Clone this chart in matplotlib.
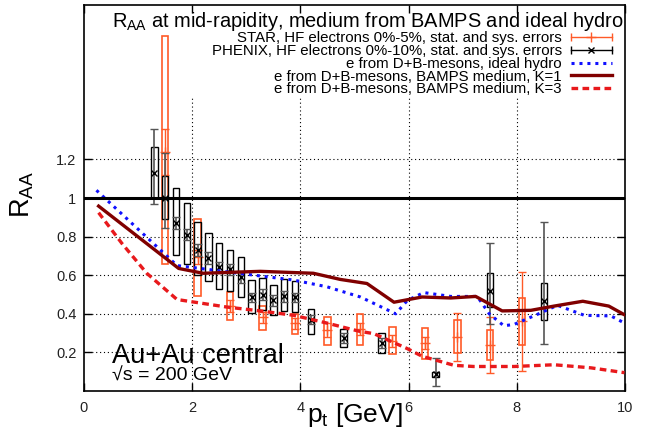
import matplotlib
matplotlib.use('Agg')
import matplotlib.pyplot as plt
from matplotlib.lines import Line2D
from matplotlib.legend_handler import HandlerLine2D

plt.rcParams['font.family'] = ['Liberation Sans', 'DejaVu Sans']
plt.rcParams['mathtext.fontset'] = 'custom'
plt.rcParams['mathtext.rm'] = 'Liberation Sans'
plt.rcParams['mathtext.it'] = 'Liberation Sans:italic'
plt.rcParams['mathtext.default'] = 'regular'

# PHENIX, HF electrons 0%-10%
phx_pt = [1.3, 1.5, 1.7, 1.9, 2.1, 2.3, 2.5, 2.7, 2.9, 3.1, 3.3, 3.5, 3.7, 3.9, 4.2, 4.8, 5.5, 6.5, 7.5, 8.5]
phx_raa = [1.13, 1.00, 0.87, 0.81, 0.73, 0.69, 0.64, 0.63, 0.59, 0.485, 0.50, 0.47, 0.49, 0.485, 0.37, 0.276, 0.25, 0.086, 0.517, 0.465]
phx_stat_lo = [0.97, 0.843, 0.84, 0.78, 0.70, 0.66, 0.61, 0.60, 0.56, 0.46, 0.47, 0.44, 0.46, 0.46, 0.345, 0.25, 0.225, 0.028, 0.345, 0.242]
phx_stat_hi = [1.358, 1.235, 0.90, 0.84, 0.76, 0.72, 0.67, 0.66, 0.62, 0.51, 0.53, 0.50, 0.52, 0.51, 0.395, 0.30, 0.275, 0.169, 0.765, 0.874]
phx_sys_lo = [1.00, 0.89, 0.707, 0.66, 0.60, 0.569, 0.531, 0.518, 0.487, 0.404, 0.418, 0.392, 0.413, 0.41, 0.297, 0.228, 0.198, 0.07, 0.435, 0.37]
phx_sys_hi = [1.266, 1.114, 1.05, 0.972, 0.877, 0.82, 0.768, 0.733, 0.692, 0.574, 0.588, 0.548, 0.578, 0.569, 0.427, 0.319, 0.30, 0.10, 0.609, 0.56]

# STAR, HF electrons 0%-5%
star_pt = [1.5, 2.1, 2.7, 3.3, 3.9, 4.5, 5.1, 5.7, 6.3, 6.9, 7.5, 8.1]
star_raa = [1.237, 0.695, 0.44, 0.383, 0.352, 0.314, 0.32, 0.259, 0.25, 0.28, 0.24, 0.361]
star_stat_lo = [1.12, 0.66, 0.41, 0.35, 0.32, 0.28, 0.29, 0.23, 0.22, 0.158, 0.092, 0.106]
star_stat_hi = [1.358, 0.73, 0.47, 0.41, 0.38, 0.35, 0.35, 0.29, 0.28, 0.406, 0.383, 0.617]
star_sys_lo = [0.657, 0.491, 0.366, 0.314, 0.297, 0.24, 0.24, 0.19, 0.167, 0.196, 0.162, 0.24]
star_sys_hi = [1.84, 0.889, 0.513, 0.439, 0.401, 0.383, 0.401, 0.33, 0.326, 0.37, 0.318, 0.482]

# e from D+B-mesons, ideal hydro
hydro_pt = [0.23, 1.72, 3.0, 3.87, 4.49, 5.11, 5.76, 5.98, 6.28, 6.78, 7.27, 7.49, 7.76, 7.95, 8.38, 8.75, 9.25, 9.74, 9.99]
hydro_raa = [1.04, 0.65, 0.605, 0.575, 0.54, 0.487, 0.40, 0.47, 0.51, 0.49, 0.49, 0.40, 0.338, 0.345, 0.397, 0.444, 0.392, 0.389, 0.352]

# e from D+B-mesons, BAMPS medium, K=1
k1_pt = [0.27, 1.75, 2.2, 3.26, 4.24, 4.74, 5.23, 5.73, 6.25, 6.78, 7.24, 7.73, 8.26, 8.69, 9.22, 9.7, 9.99]
k1_raa = [0.958, 0.635, 0.61, 0.62, 0.61, 0.578, 0.557, 0.46, 0.487, 0.482, 0.49, 0.415, 0.418, 0.44, 0.465, 0.44, 0.395]

# e from D+B-mesons, BAMPS medium, K=3
k3_pt = [0.27, 0.70, 1.16, 1.72, 2.64, 3.26, 3.88, 4.49, 5.08, 5.36, 5.98, 6.25, 6.84, 7.2, 7.95, 8.69, 9.37, 9.99]
k3_raa = [0.924, 0.765, 0.61, 0.474, 0.435, 0.415, 0.392, 0.352, 0.31, 0.297, 0.219, 0.18, 0.133, 0.127, 0.127, 0.136, 0.12, 0.095]

star_c = '#ff5a28'
phx_c = 'black'
hydro_c = '#1010ff'
k1_c = '#800000'
k3_c = '#e8191c'

fig = plt.figure(figsize=(6.58, 4.44), dpi=100)
ax = fig.add_axes([84 / 658, 1 - 391 / 444, 541 / 658, 386 / 444])

ax.set_xlim(0, 10)
ax.set_ylim(0, 2)
ax.set_xticks([0, 2, 4, 6, 8, 10])
ax.set_yticks([0.2, 0.4, 0.6, 0.8, 1.0, 1.2])
ax.set_yticklabels(['0.2', '0.4', '0.6', '0.8', '1', '1.2'])
ax.tick_params(direction='in', top=True, right=True, length=6, width=1,
               labelsize=10.5, labelcolor='#222222')
ax.tick_params(axis='x', pad=7.5)
ax.tick_params(axis='y', pad=5.5)
for s in ax.spines.values():
    s.set_linewidth(1.2)

# grid: horizontal across, vertical only below the key
ax.grid(axis='y', color='black', linestyle=(0, (1, 2.5)), linewidth=0.8)
ax.vlines([2, 4, 6, 8], 0, 1.52, colors='black', linestyles=(0, (1, 2.5)), linewidth=0.8, zorder=1.5)

# STAR
ax.bar(star_pt, [h - l for l, h in zip(star_sys_lo, star_sys_hi)], bottom=star_sys_lo, width=0.12,
       fill=False, edgecolor=star_c, linewidth=1.2, zorder=2)
ax.errorbar(star_pt, star_raa,
            yerr=[[v - l for v, l in zip(star_raa, star_stat_lo)], [h - v for v, h in zip(star_raa, star_stat_hi)]],
            fmt='+', color=star_c, ms=7, mew=1, elinewidth=1, capsize=3, capthick=1, zorder=2.1)

# PHENIX
ax.bar(phx_pt, [h - l for l, h in zip(phx_sys_lo, phx_sys_hi)], bottom=phx_sys_lo, width=0.12,
       fill=False, edgecolor=phx_c, linewidth=1.0, zorder=2.2)
ax.errorbar(phx_pt, phx_raa,
            yerr=[[v - l for v, l in zip(phx_raa, phx_stat_lo)], [h - v for v, h in zip(phx_raa, phx_stat_hi)]],
            fmt='x', color=phx_c, ecolor='#555555', ms=4.5, mew=1, elinewidth=1.2, capsize=3, capthick=1.2, zorder=2.3)

# theory curves
ax.plot(hydro_pt, hydro_raa, color=hydro_c, linestyle=(0, (1, 1.6)), linewidth=2.2, zorder=3)
ax.plot(k1_pt, k1_raa, color=k1_c, linestyle='-', linewidth=2.4, zorder=3)
ax.plot(k3_pt, k3_raa, color=k3_c, linestyle=(0, (2, 1.3)), linewidth=2.4, zorder=3)
ax.axhline(1.0, color='black', linewidth=2.2, zorder=3)

ax.set_xlabel('p$_t$ [GeV]', fontsize=19)
ax.xaxis.set_label_coords(0.5, -0.025)
ax.set_ylabel('R$_{AA}$', fontsize=19.5)
ax.yaxis.set_label_coords(-0.088, 0.51)

ax.text(0.998, 0.944, 'R$_{AA}$ at mid-rapidity, medium from BAMPS and ideal hydro',
        transform=ax.transAxes, ha='right', va='baseline', fontsize=14.4)
ax.text(0.052, 0.072, 'Au+Au central', transform=ax.transAxes, ha='left', va='baseline', fontsize=19.6)
ax.text(0.052, 0.026, '√s = 200 GeV', transform=ax.transAxes, ha='left', va='baseline', fontsize=14)

# key
star_line = Line2D([], [], color=star_c, marker='+', ms=7, mew=1, lw=1)
star_caps = Line2D([], [], color=star_c, marker='|', ms=6, mew=1, ls='none')
phx_line = Line2D([], [], color=phx_c, marker='x', ms=4.5, mew=1, lw=1)
phx_caps = Line2D([], [], color=phx_c, marker='|', ms=6, mew=1, ls='none')
hydro_h = Line2D([], [], color=hydro_c, linestyle=(0, (1, 1.6)), linewidth=2.2)
k1_h = Line2D([], [], color=k1_c, linewidth=2.4)
k3_h = Line2D([], [], color=k3_c, linestyle=(0, (2, 1.3)), linewidth=2.4)

labels = ['STAR, HF electrons 0%-5%, stat. and sys. errors',
          'PHENIX, HF electrons 0%-10%, stat. and sys. errors',
          'e from D+B-mesons, ideal hydro',
          'e from D+B-mesons, BAMPS medium, K=1',
          'e from D+B-mesons, BAMPS medium, K=3']
leg = ax.legend([(star_line, star_caps), (phx_line, phx_caps), hydro_h, k1_h, k3_h], labels,
                handler_map={star_caps: HandlerLine2D(numpoints=2, marker_pad=0),
                             phx_caps: HandlerLine2D(numpoints=2, marker_pad=0)},
                loc='upper right', bbox_to_anchor=(0.976, 0.932), markerfirst=False, frameon=False,
                fontsize=10.8, numpoints=1, handlelength=2.74, handletextpad=0.6,
                labelspacing=-0.08, borderpad=0, borderaxespad=0)
for t in leg.get_texts():
    t.set_ha('right')
leg._legend_box.align = 'right'

fig.savefig('out.png', dpi=100)
